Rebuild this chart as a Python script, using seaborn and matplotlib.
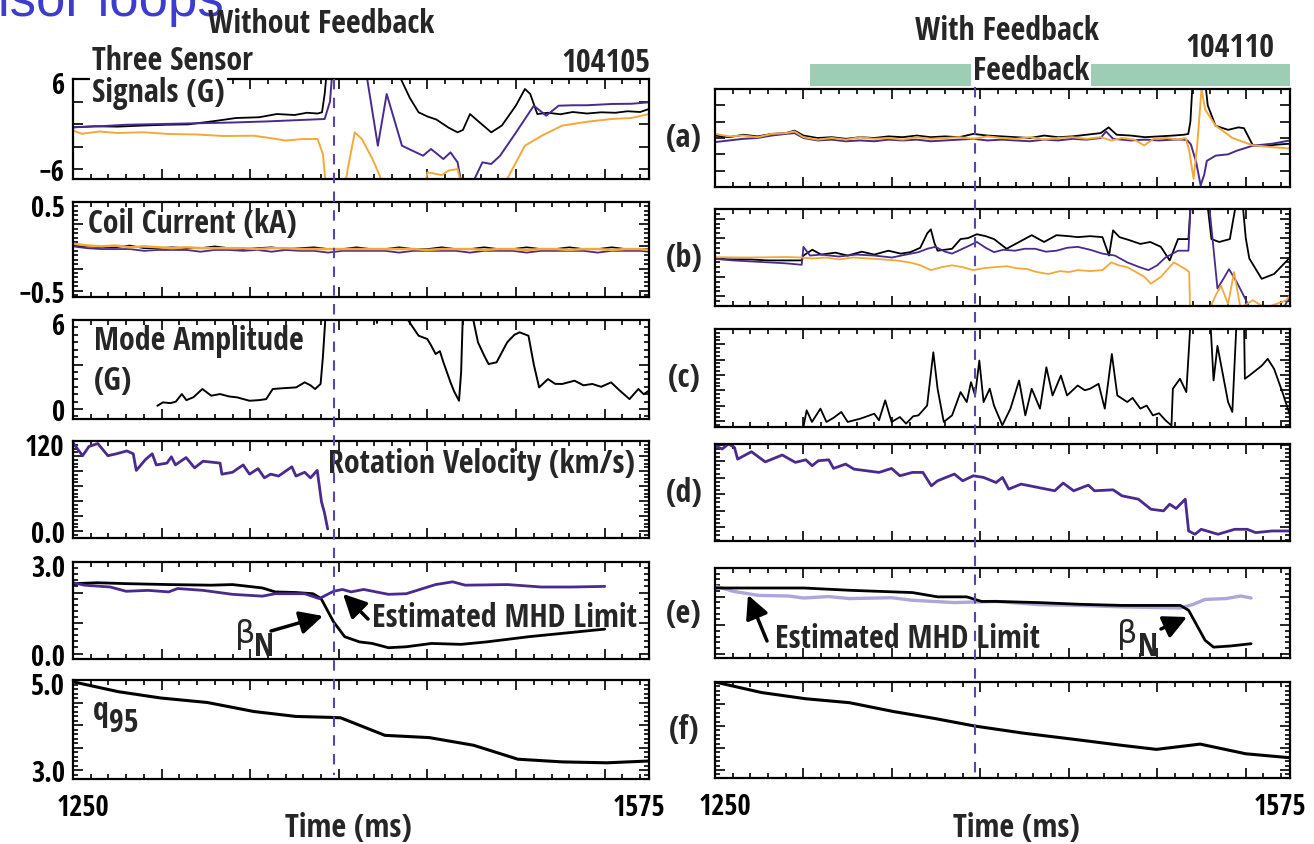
import matplotlib
matplotlib.use("Agg")
import matplotlib.pyplot as plt
import seaborn as sns
from matplotlib import font_manager
from matplotlib.ticker import MultipleLocator, FixedLocator, FuncFormatter
from matplotlib.patches import Rectangle, FancyArrowPatch
from matplotlib.lines import Line2D
import matplotlib.transforms as mtransforms

# ---------------------------------------------------------------- data
EVENT_T = 1397          # time of the dashed marker (ms)
T_MIN, T_MAX = 1250, 1575
X_TICKS = [1250, 1300, 1350, 1400, 1450, 1500, 1550, 1575]
X_LABELS = {1250: "1250", 1575: "1575"}

# ---- Without feedback (shot 104105)
la_black = [(1250,-0.44),(1262,-0.3),(1275,-0.35),(1290,-0.2),(1302,-0.1),(1315,-0.05),(1330,0.4),
            (1342,0.8),(1355,0.9),(1365,1.33),(1375,1.2),(1382,1.5),(1388,1.4),(1390.5,1.56),(1392,4.0),
            (1394,9),(1432,9),(1435,6),(1440,3.5),(1445,1.56),(1450,1.0),(1455,0.6),(1462,-0.5),
            (1467,-1.11),(1470,-0.8),(1474,1.33),(1479,0.3),(1486,-1.11),(1492,-0.2),(1500,2.5),
            (1505,4.67),(1508,4.0),(1512,1.33),(1518,1.5),(1525,1.3),(1532,1.6),(1540,1.4),(1548,1.56),
            (1556,1.5),(1563,1.7),(1570,1.6),(1575,2.0)]
la_purple = [(1250,-0.44),(1265,-0.3),(1280,-0.1),(1300,0.0),(1320,0.1),(1340,0.2),(1360,0.35),
             (1375,0.5),(1385,0.6),(1392,0.67),(1395,3),(1397,9),(1413,9),(1416,6),(1422,-2.89),
             (1427,4.0),(1435.6,-2.89),(1441,-3.5),(1447.5,-4.22),(1452,-3.33),(1459,-4.67),(1463,-3.78),
             (1467,-5.11),(1470,-9),(1476,-7.6),(1481,-5.11),(1486,-5.33),(1491,-4.22),(1500,-1.11),
             (1510,2.44),(1517,1.11),(1524,2.44),(1532,2.5),(1540,2.5),(1554,2.67),(1565,2.7),(1575,2.89)]
la_orange = [(1250,-0.89),(1255,-1.3),(1265,-1.0),(1275,-1.2),(1290,-1.1),(1304,-1.33),(1320,-1.4),
             (1335,-1.6),(1352,-1.56),(1362,-1.9),(1370,-2.2),(1380,-2.0),(1388,-2.0),(1391,-4),
             (1393,-9),(1403,-9),(1405,-6),(1409,-1.11),(1413,-2.0),(1419,-4.67),(1424,-7.4),(1426,-9),
             (1448,-9),(1450,-6.44),(1458,-6.8),(1462,-6.2),(1467,-6.0),(1470,-9),(1493,-9),(1495,-7.3),
             (1505,-2.89),(1515,-1.5),(1526,-0.22),(1540,0.3),(1554,0.67),(1565,0.8),(1575,1.33)]

lb_t = [1250,1258,1266,1274,1282,1290,1298,1306,1314,1322,1330,1338,1346,1354,1362,1370,1378,
        1386,1394,1402,1410,1418,1426,1434,1442,1450,1458,1466,1474,1482,1490,1498,1506,1514,
        1522,1530,1538,1546,1554,1562,1570,1575]
lb_black = [0.01,0.0,-0.01,-0.01,0.01,-0.02,-0.02,-0.01,-0.02,-0.02,0.0,-0.02,-0.03,-0.02,
            -0.01,-0.03,-0.02,-0.01,-0.03,-0.03,-0.01,-0.03,-0.03,-0.01,-0.03,-0.03,-0.01,-0.03,
            -0.03,-0.01,-0.03,-0.03,-0.01,-0.03,-0.03,-0.01,-0.03,-0.03,-0.01,-0.03,-0.03,-0.03]
lb_purple = [0.0,-0.02,-0.03,-0.03,-0.03,-0.05,-0.04,-0.04,-0.04,-0.06,-0.04,-0.04,-0.05,-0.04,
             -0.06,-0.04,-0.05,-0.05,-0.07,-0.05,-0.05,-0.05,-0.05,-0.07,-0.05,-0.05,-0.05,-0.05,
             -0.07,-0.05,-0.05,-0.05,-0.07,-0.05,-0.05,-0.05,-0.05,-0.07,-0.05,-0.05,-0.05,-0.06]
lb_orange = [0.03,0.01,0.0,0.01,-0.01,0.0,-0.01,-0.02,-0.01,-0.02,-0.02,-0.02,-0.02,-0.03,
             -0.02,-0.02,-0.03,-0.03,-0.03,-0.03,-0.03,-0.03,-0.03,-0.03,-0.03,-0.04,-0.03,-0.03,
             -0.03,-0.04,-0.03,-0.03,-0.04,-0.03,-0.03,-0.04,-0.03,-0.03,-0.04,-0.03,-0.03,-0.04]

lc_black = [(1297.6,0.22),(1300.7,0.45),(1305,0.4),(1308,0.5),(1311.4,1.01),(1314,0.6),(1318,0.8),
            (1323,1.35),(1328,0.9),(1333,1.01),(1338,0.85),(1342.5,0.79),(1349.6,0.56),(1355,0.6),
            (1359,0.67),(1362.7,1.35),(1368,1.4),(1375.9,1.46),(1380.7,1.8),(1384,1.6),(1386.6,1.35),
            (1389.7,1.69),(1391,3.5),(1392.6,6.5),(1420,8),(1421.5,5.8),(1423,8),(1437,8),(1439,6),
            (1445,4.94),(1449.9,4.72),(1452,4.3),(1454.6,3.71),(1457,3.9),(1459,3.15),(1463,1.8),
            (1465,1.2),(1467.8,0.56),(1469,2.5),(1470,6.5),(1475,6.5),(1478.5,4.5),(1482,3.6),
            (1484.5,3.03),(1489,3.15),(1495,4.5),(1499,5.0),(1502,5.17),(1507,4.94),(1510,3.0),
            (1513,1.46),(1518,2.02),(1522,1.7),(1526,1.69),(1533,1.91),(1538,1.6),(1543,1.69),
            (1548,1.5),(1553.6,1.8),(1558,1.3),(1564,0.67),(1569,1.35),(1572,1.0),(1575,1.24)]

ld_purple = [(1250,117.6),(1255.4,100.4),(1259,112.7),(1264,116.6),(1269.7,100.4),(1274.5,103),
             (1280.4,106.8),(1284,103),(1285.7,80.9),(1291,95.6),(1294.7,103),(1297,88.2),(1303,90.6),
             (1305.5,99),(1307.8,88.2),(1313.8,98),(1318.6,84.3),(1323.4,93.1),(1333,90.6),(1334,75.9),
             (1340,78.4),(1346,88.2),(1349.6,75.9),(1354.4,83.3),(1358,71),(1361.5,75.9),(1366,73.4),
             (1373.5,85.7),(1375.8,73.4),(1380.7,78.4),(1384,71),(1387.8,80.9),(1390.2,39.2),
             (1391.9,24.5),(1393.7,3)]

le_beta = [(1250,2.29),(1263.7,2.32),(1280.4,2.29),(1304,2.26),(1328,2.24),(1340,2.26),(1356.8,2.15),
           (1364,2.02),(1375.8,2.0),(1385.4,1.96),(1390,1.8),(1397,1.04),(1403.3,0.55),(1411.7,0.38),
           (1418.8,0.33),(1428,0.19),(1437.9,0.22),(1452.3,0.33),(1469,0.3),(1483.3,0.38),(1507,0.55),
           (1526,0.66),(1550,0.8)]
le_limit = [(1250,2.32),(1256.5,2.24),(1271,2.18),(1280,2.04),(1292.3,2.07),(1304,2.02),(1309,2.13),
            (1323.4,2.07),(1340,1.94),(1356.8,1.88),(1364,1.96),(1380.7,1.96),(1389,1.8),(1397,2.04),
            (1402,2.1),(1406.9,2.02),(1414,2.1),(1428,1.94),(1438,1.96),(1454.6,2.26),(1464.2,2.35),
            (1471.3,2.24),(1495.2,2.26),(1514.3,2.18),(1531,2.18),(1550,2.2)]

lf_q95 = [(1250,4.96),(1275.6,4.74),(1299.5,4.6),(1325.8,4.5),(1352,4.3),(1375.8,4.19),(1395,4.17),
          (1401,4.16),(1426,3.77),(1451,3.72),(1476,3.55),(1501,3.24),(1526,3.18),(1551.3,3.16),
          (1575,3.2)]

# ---- With feedback (shot 104110)
ra_black = [(1250,0.3),(1258,0.1),(1266,0.4),(1274,0.2),(1282,0.5),(1290,0.6),(1295,0.9),(1300,0.3),
            (1308,0.0),(1316,0.1),(1324,-0.1),(1332,0.1),(1340,0.0),(1348,0.2),(1356,0.1),(1364,0.3),
            (1372,0.1),(1380,0.2),(1388,0.1),(1396,0.5),(1404,0.3),(1412,0.2),(1420,0.1),(1428,0.0),
            (1436,0.3),(1444,0.1),(1452,0.2),(1460,0.4),(1468,0.6),(1472.5,1.3),(1477,0.4),(1485,0.3),
            (1493,0.1),(1501,0.2),(1509,0.3),(1515,0.4),(1517.5,0.5),(1518.7,2),(1520,7),(1527,7),
            (1528.5,4),(1532.9,1.5),(1540,1.0),(1545.9,1.3),(1549,1.2),(1554,-0.9),(1560,-1.0),
            (1568,-0.8),(1575,-0.7)]
ra_purple = [(1250,-0.5),(1258,-0.3),(1266,-0.1),(1274,0.0),(1282,0.3),(1290,0.5),(1295,0.6),(1300,0.0),
             (1308,-0.3),(1316,-0.2),(1324,-0.4),(1332,-0.3),(1340,-0.4),(1348,-0.2),(1356,-0.3),
             (1364,-0.2),(1372,-0.4),(1380,-0.3),(1388,-0.2),(1396,-0.1),(1404,-0.3),(1412,-0.2),
             (1420,-0.3),(1428,-0.4),(1436,-0.2),(1444,-0.3),(1452,-0.1),(1460,-0.2),(1468,0.0),
             (1471,0.8),(1475,-0.1),(1485,-0.3),(1493,-0.2),(1501,-0.3),(1509,-0.2),(1515,-0.2),
             (1517,-0.3),(1519,-0.8),(1522,-3),(1524.5,-5.8),(1526.5,-4.5),(1528,-2.8),(1533,-2.16),
             (1540,-2.0),(1545,-1.55),(1554,-0.94),(1565,-0.7),(1575,-0.3)]
ra_orange = [(1250,0.5),(1258,0.2),(1266,0.3),(1274,0.1),(1282,0.5),(1290,0.6),(1295,0.8),(1300,0.1),
             (1308,-0.2),(1316,0.0),(1324,-0.2),(1332,0.1),(1340,-0.1),(1348,0.0),(1356,-0.2),
             (1364,0.1),(1372,-0.1),(1380,0.0),(1388,0.1),(1396,-0.1),(1404,0.2),(1412,0.0),
             (1420,-0.1),(1428,0.1),(1436,-0.2),(1444,0.0),(1452,0.1),(1460,-0.1),(1468,0.1),
             (1474,-0.3),(1480,0.0),(1487,-0.2),(1492.6,-0.9),(1498,-0.1),(1505,0.0),(1512,-0.2),
             (1516,0.0),(1518,-1.5),(1520.5,-5.0),(1522.5,-1.0),(1525,6.0),(1527,3.5),(1533,1.5),
             (1542.5,0.0),(1554,-0.9),(1564,-1.1),(1575,-1.3)]

rb_black = [(1250,-0.014),(1260,-0.02),(1270,-0.02),(1280,-0.03),(1290,-0.03),(1299,-0.03),(1300,0.02),
            (1305,0.08),(1310,0.03),(1318,0.05),(1325,0.02),(1333,0.06),(1340,0.03),(1348,0.07),
            (1355,0.04),(1360.4,0.055),(1366,0.1),(1370,0.25),(1372,0.29),(1374,0.15),(1375.8,0.07),
            (1384,0.09),(1388.8,0.19),(1393,0.2),(1398,0.24),(1403,0.22),(1407.7,0.19),(1414.8,0.09),
            (1421.9,0.16),(1429,0.23),(1436,0.16),(1443,0.23),(1450,0.22),(1455,0.21),(1462,0.22),
            (1469,0.21),(1472.7,0.02),(1475,0.28),(1478.6,0.21),(1484,0.18),(1490.4,0.14),(1496,0.16),
            (1502,0.11),(1507,-0.03),(1511.7,0.19),(1517.6,0.19),(1519,0.6),(1528,0.6),(1530.6,0.19),
            (1535,0.16),(1541,0.19),(1543,0.4),(1545,0.6),(1548,0.6),(1550,0.2),(1552,-0.01),
            (1559,-0.22),(1566,-0.17),(1575,0.0)]
rb_purple = [(1250,-0.014),(1260,-0.03),(1270,-0.04),(1280,-0.05),(1290,-0.06),(1299,-0.075),(1300,0.11),
             (1303.7,0.02),(1310,0.03),(1320,0.01),(1330,0.03),(1340,0.02),(1350,0.0),(1358,0.03),
             (1365,0.055),(1370,0.09),(1374.6,0.11),(1380,0.06),(1384,0.04),(1393.5,0.12),(1398,0.16),
             (1403,0.1),(1407.7,0.055),(1413,0.08),(1419.5,0.07),(1425,0.09),(1431,0.09),(1437,0.06),
             (1443,0.07),(1449,0.1),(1455,0.11),(1462,0.08),(1469,0.04),(1476,0.02),(1483,-0.05),
             (1490,-0.1),(1495,-0.13),(1500,-0.08),(1504.6,0.0),(1511.7,0.07),(1517.6,0.07),(1519,0.6),
             (1529,0.6),(1534,-0.32),(1538,-0.2),(1540.5,-0.12),(1544.8,-0.25),(1549,-0.4),(1553,-0.55),
             (1570.7,-0.55),(1575,-0.39)]
rb_orange = [(1250,0.003),(1270,0.0),(1290,0.005),(1299,0.0),(1305,-0.01),(1313,0.0),(1320,-0.02),
             (1328,0.0),(1336.8,-0.01),(1345,-0.02),(1352,-0.03),(1360,-0.05),(1366,-0.08),(1372,-0.13),
             (1378,-0.1),(1384,-0.08),(1390,-0.1),(1396,-0.13),(1402,-0.11),(1407.7,-0.1),(1415,-0.09),
             (1420,-0.11),(1426.6,-0.12),(1432,-0.15),(1438.4,-0.17),(1445,-0.14),(1450,-0.15),
             (1455,-0.13),(1462,-0.14),(1469,-0.13),(1474,-0.05),(1478,-0.08),(1483,-0.1),(1488,-0.15),
             (1492.8,-0.2),(1496.3,-0.27),(1502,-0.2),(1509.3,-0.05),(1516,-0.12),(1518,-0.15),
             (1518.6,-0.6),(1528,-0.6),(1533,-0.39),(1536,-0.29),(1540,-0.48),(1543.4,-0.15),
             (1547,-0.52),(1554,-0.44),(1561,-0.52),(1573,-0.44),(1575,-0.39)]

rc_black = [(1300.1,-0.33),(1301.8,0.69),(1304.8,-0.07),(1309.6,0.8),(1313,-0.07),(1317,0.2),(1321.4,0.58),
            (1325,-0.07),(1332,0.14),(1336,0.3),(1340,0.47),(1342.7,0.04),(1346.2,1.34),(1349.8,-0.07),
            (1354.5,0.25),(1358,-0.18),(1362,0.3),(1365,0.36),(1369.9,1.0),(1373.4,4.48),(1375.8,2.1),
            (1379.3,-0.07),(1384,0.36),(1388.8,1.88),(1392.3,1.23),(1394.7,2.53),(1397,1.66),
            (1399.4,3.94),(1401.8,1.23),(1405.3,2.1),(1407.7,1.0),(1412.4,-0.29),(1417,0.8),
            (1421.9,2.64),(1425.4,0.36),(1429,2.1),(1433.7,0.8),(1437.3,3.5),(1440.8,1.66),
            (1445.5,2.96),(1449,1.66),(1455,2.31),(1459,2.0),(1462,2.1),(1466.8,2.42),(1470.3,0.8),
            (1474.3,4.37),(1477.4,1.66),(1483,1.23),(1486,1.5),(1490.4,0.8),(1494,1.0),(1497.5,0.36),
            (1501,0.5),(1504.6,0.04),(1508,-0.3),(1508.8,2.1),(1512.8,2.75),(1516.4,1.88),(1518.8,6.5),
            (1530,6.5),(1531.8,2.64),(1534,4.9),(1540,1.23),(1542.4,0.58),(1544.8,6.5),(1549,6.5),
            (1549.5,2.75),(1552,2.96),(1559,3.6),(1562.4,4.05),(1566,3.4),(1570.7,1.88),(1575,0.36)]

rd_purple = [(1250,118.6),(1254,113.7),(1257.6,121),(1261,116),(1262.8,99),(1270.6,109.8),(1278.4,95),
             (1288,105),(1295.4,94.3),(1301.3,98),(1304.9,89.4),(1308.4,96.7),(1314.3,98),(1317,85.5),
             (1323.8,91.8),(1328.5,84.5),(1335.6,82.1),(1342.7,79.7),(1349.8,85.5),(1354.5,74.8),
             (1361.6,79.7),(1367.5,79.7),(1372.3,60.2),(1375.8,67.5),(1385.3,77.3),(1390,67.5),
             (1396,74.8),(1401.8,72.4),(1408.9,65),(1412.5,72.4),(1416,55.4),(1423,62.7),(1432.6,57.8),
             (1442,53),(1446.8,64.2),(1452.7,53),(1461,61.2),(1464.5,53),(1475,54.4),(1480,45.7),
             (1489.3,40.8),(1496.4,26.2),(1503.5,23.8),(1507,33.5),(1510.6,27.2),(1515.8,40.8),
             (1517.7,-5.4),(1521.3,-10.2),(1524.8,-3),(1534.3,-10.2),(1543.7,-3),(1550.8,-3),
             (1555.6,-7.8),(1565,-5.4),(1574.5,-5.4)]

re_beta = [(1250,2.3),(1300.2,2.3),(1326.2,2.22),(1361.6,2.14),(1375.8,1.99),(1392.3,1.99),(1400.6,1.83),
           (1408.9,1.83),(1432.6,1.79),(1456.2,1.73),(1480,1.69),(1513,1.69),(1517.7,1.52),(1527,0.47),
           (1531.8,0.23),(1541.3,0.27),(1553,0.35)]
re_limit = [(1250,2.37),(1260.6,2.18),(1274.8,2.04),(1291.4,2.02),(1300,1.95),(1314.3,2.0),(1326,1.93),
            (1349.8,1.96),(1361.6,1.87),(1385.3,1.79),(1408.9,1.83),(1432.6,1.72),(1456.2,1.69),
            (1480,1.64),(1513,1.6),(1520,1.72),(1527,1.9),(1538.8,1.93),(1547.2,2.02),(1553,1.95)]

rf_q95 = [(1250,5.0),(1276.4,4.76),(1301.2,4.62),(1326,4.53),(1350.8,4.33),(1374.4,4.17),(1396.8,4.0),
          (1424,3.84),(1454.6,3.69),(1478.2,3.57),(1499.5,3.47),(1524.2,3.59),(1550,3.37),(1575,3.28)]

# ---------------------------------------------------------------- style
W, H = 1314, 845
sns.set_theme(style="ticks")
_fonts = font_manager.fontManager.ttflist
_names = {f.name for f in _fonts}
FONT = None
STRETCH = "normal"
for cand in ["Liberation Sans Narrow", "Arial Narrow", "Noto Sans Condensed", "Open Sans Condensed",
             "Roboto Condensed", "DejaVu Sans Condensed"]:
    if cand in _names:
        FONT = cand
        break
if FONT is None:
    for fam in ["Noto Sans", "Open Sans", "Roboto", "DejaVu Sans"]:
        if any(f.name == fam and str(f.stretch) in ("condensed", "semi-condensed", "75", "87.5")
               for f in _fonts):
            FONT, STRETCH = fam, "condensed"
            break
CONDENSED = FONT is not None
if FONT is None:
    FONT = "Liberation Sans"
plt.rcParams["font.family"] = [FONT, "DejaVu Sans"]
plt.rcParams["font.weight"] = "bold"
plt.rcParams["font.stretch"] = STRETCH
plt.rcParams["axes.unicode_minus"] = True
FS = 23 if CONDENSED else 20
TFS = 20.5 if CONDENSED else 18.5

BLACK = "#000000"
PURPLE = "#4a2a8e"
ORANGE = "#f2a93a"
LILAC = "#aba7d9"
DASH = "#5a46a8"
GREEN = "#9dcdb4"
BLUE = "#3c3ccf"

fig = plt.figure(figsize=(W / 100, H / 100), dpi=100)
fig.patch.set_facecolor("white")


def fx(px):
    return px / W


def fy(py):
    return 1 - py / H


def add_ax(x0, x1, top, bot):
    ax = fig.add_axes([fx(x0), fy(bot), (x1 - x0) / W, (bot - top) / H])
    ax.set_facecolor("white")
    return ax


def unzip(pairs):
    return [p[0] for p in pairs], [p[1] for p in pairs]


def trace(ax, pairs, color, lw):
    x, y = unzip(pairs)
    sns.lineplot(x=x, y=y, ax=ax, color=color, lw=lw, estimator=None, sort=False, legend=False)


def label_fmt(labels):
    def f(v, pos):
        for val, s in labels.items():
            if abs(v - val) < 1e-6:
                return s
        return ""
    return FuncFormatter(f)


def style_ax(ax, ylim, major, minor, ylabels, bottom_labels):
    ax.set_xlim(T_MIN, T_MAX)
    ax.set_ylim(*ylim)
    ax.xaxis.set_major_locator(FixedLocator(X_TICKS))
    ax.xaxis.set_minor_locator(MultipleLocator(10))
    ax.yaxis.set_major_locator(MultipleLocator(major))
    if minor:
        ax.yaxis.set_minor_locator(MultipleLocator(minor))
    ax.yaxis.set_major_formatter(label_fmt(ylabels))
    ax.xaxis.set_major_formatter(label_fmt(X_LABELS if bottom_labels else {}))
    ax.tick_params(which="both", direction="in", top=True, right=True, colors="black",
                   labelsize=TFS, width=1.2)
    ax.tick_params(which="major", length=7)
    ax.tick_params(which="minor", length=3.5)
    ax.tick_params(axis="y", pad=6)
    ax.tick_params(axis="x", pad=10)
    for s in ax.spines.values():
        s.set_linewidth(1.6)
        s.set_color("black")
    ax.set_xlabel("")
    ax.set_ylabel("")


def nudge(label, dx_px, dy_px):
    label.set_transform(label.get_transform() +
                        mtransforms.ScaledTranslation(dx_px / 100, dy_px / 100, fig.dpi_scale_trans))


LX0, LX1 = 73, 649
RX0, RX1 = 715, 1290
left_rows = [(80, 180), (203, 298), (321, 420), (442, 539), (563, 660), (681, 780)]
right_rows = [(90, 188), (210, 307), (330, 428), (445, 542), (569, 659), (683, 779)]
axL = [add_ax(LX0, LX1, t, b) for t, b in left_rows]
axR = [add_ax(RX0, RX1, t, b) for t, b in right_rows]

# ---- left column
trace(axL[0], la_black, BLACK, 1.3)
trace(axL[0], la_purple, PURPLE, 1.4)
trace(axL[0], la_orange, ORANGE, 1.4)
style_ax(axL[0], (-7.33, 6), 3, None, {6: "6", -6: "\u22126"}, False)

trace(axL[1], list(zip(lb_t, lb_black)), BLACK, 1.2)
trace(axL[1], list(zip(lb_t, lb_purple)), PURPLE, 1.3)
trace(axL[1], list(zip(lb_t, lb_orange)), ORANGE, 1.8)
style_ax(axL[1], (-0.57, 0.5), 0.25, 0.05, {0.5: "0.5", -0.5: "\u22120.5"}, False)

trace(axL[2], lc_black, BLACK, 1.4)
style_ax(axL[2], (-0.67, 6), 3, 0.5, {6: "6", 0: "0"}, False)

trace(axL[3], ld_purple, PURPLE, 2.0)
style_ax(axL[3], (-9, 120), 20, 5, {120: "120", 0: "0.0"}, False)

trace(axL[4], le_beta, BLACK, 2.0)
trace(axL[4], le_limit, PURPLE, 2.0)
style_ax(axL[4], (-0.18, 3.0), 1, 0.2, {3: "3.0", 0: "0.0"}, False)

trace(axL[5], lf_q95, BLACK, 2.2)
style_ax(axL[5], (2.8, 5.0), 0.5, 0.1, {5: "5.0", 3: "3.0"}, True)

# top-of-panel labels sit a little below their tick, as in the original
for ax, top in zip(axL, [6, 0.5, 6, 120, 3.0, 5.0]):
    for lab, tick in zip(ax.get_yticklabels(), ax.get_yticks()):
        if abs(tick - top) < 1e-6:
            nudge(lab, 0, -3)

# ---- right column
trace(axR[0], ra_black, BLACK, 1.3)
trace(axR[0], ra_purple, PURPLE, 1.4)
trace(axR[0], ra_orange, ORANGE, 1.4)
style_ax(axR[0], (-6, 6), 2, None, {}, False)

trace(axR[1], rb_black, BLACK, 1.3)
trace(axR[1], rb_purple, PURPLE, 1.3)
trace(axR[1], rb_orange, ORANGE, 1.3)
style_ax(axR[1], (-0.5, 0.5), 0.2, 0.05, {}, False)

trace(axR[2], rc_black, BLACK, 1.3)
style_ax(axR[2], (-0.4, 6), 1, 0.25, {}, False)

trace(axR[3], rd_purple, PURPLE, 2.0)
style_ax(axR[3], (-20, 121), 24, 6, {}, False)

trace(axR[4], re_limit, LILAC, 2.4)
trace(axR[4], re_beta, BLACK, 2.0)
style_ax(axR[4], (-0.15, 3.0), 1, 0.2, {}, False)

trace(axR[5], rf_q95, BLACK, 2.2)
style_ax(axR[5], (2.82, 5.0), 0.5, 0.1, {}, True)

# shift the end tick labels slightly inward, as in the original
for ax in (axL[5], axR[5]):
    for lab, tick in zip(ax.get_xticklabels(), ax.get_xticks()):
        if abs(tick - T_MIN) < 1e-6:
            nudge(lab, 10, 0)
        elif abs(tick - T_MAX) < 1e-6:
            nudge(lab, -10, 0)

# ---- dashed event line through each column
for ax0, ytop in ((axL[0], 80), (axR[0], 88)):
    tr = mtransforms.blended_transform_factory(ax0.transData, fig.transFigure)
    fig.add_artist(Line2D([EVENT_T, EVENT_T], [fy(ytop), fy(776)], transform=tr, color=DASH,
                          lw=1.5, ls=(0, (5, 4)), zorder=5))

# ---- texts
def T(px, py, s, ha="left", size=FS, weight="bold", **kw):
    return fig.text(fx(px), fy(py), s, ha=ha, va="baseline", fontsize=size, fontweight=weight, **kw)


fig.text(fx(-2), fy(16), "isor loops", ha="left", va="baseline", fontsize=38,
         color=BLUE, family=["Liberation Sans", "DejaVu Sans"], fontweight="normal",
         fontstretch="normal")
T(321, 33, "Without Feedback", ha="center")
T(92, 70, "Three Sensor")
T(92, 102, "Signals (G)", bbox=dict(facecolor="white", edgecolor="none", pad=1.5))
T(650, 72, "104105", ha="right")
T(88, 233, "Coil Current (kA)")
T(94, 350, "Mode Amplitude")
T(94, 390, "(G)")
T(328, 473, "Rotation Velocity (km/s)")
T(372, 627, "Estimated MHD Limit")
T(235, 643, "\u03b2", family=["DejaVu Sans"], weight="normal", fontstretch="normal")
T(254, 656, "N")
T(93, 720, "q")
T(109, 732, "95")
T(348, 837, "Time (ms)", ha="center")

T(1007, 40, "With Feedback", ha="center")
T(1185, 57, "104110")
fig.add_artist(Rectangle((fx(810), fy(87)), (1290 - 810) / W, 22 / H, transform=fig.transFigure,
                         facecolor=GREEN, edgecolor="none", zorder=2))
fig.add_artist(Rectangle((fx(971), fy(87)), 120 / W, 22 / H, transform=fig.transFigure,
                         facecolor="white", edgecolor="none", zorder=2.5))
T(973, 80, "Feedback", zorder=4)
T(775, 648, "Estimated MHD Limit")
T(1117, 643, "\u03b2", family=["DejaVu Sans"], weight="normal", fontstretch="normal")
T(1138, 656, "N")
T(1016, 837, "Time (ms)", ha="center")

for ax, lab in zip(axR, ["(a)", "(b)", "(c)", "(d)", "(e)", "(f)"]):
    ax.text((684 - RX0) / (RX1 - RX0), 0.5, lab, transform=ax.transAxes, ha="center", va="center",
            fontsize=FS, fontweight="bold")

# ---- arrows
for tail, head in (((368, 620), (343, 595)), ((271, 632), (323, 617)),
                   ((767, 642), (748, 596)), ((1161, 630), (1187, 618))):
    fig.add_artist(FancyArrowPatch((fx(tail[0]), fy(tail[1])), (fx(head[0]), fy(head[1])),
                                   transform=fig.transFigure,
                                   arrowstyle="-|>,head_length=0.7,head_width=0.35",
                                   mutation_scale=20, lw=2.5, color="black",
                                   shrinkA=0, shrinkB=0, zorder=6))

fig.savefig("out.png", dpi=100, facecolor="white")
